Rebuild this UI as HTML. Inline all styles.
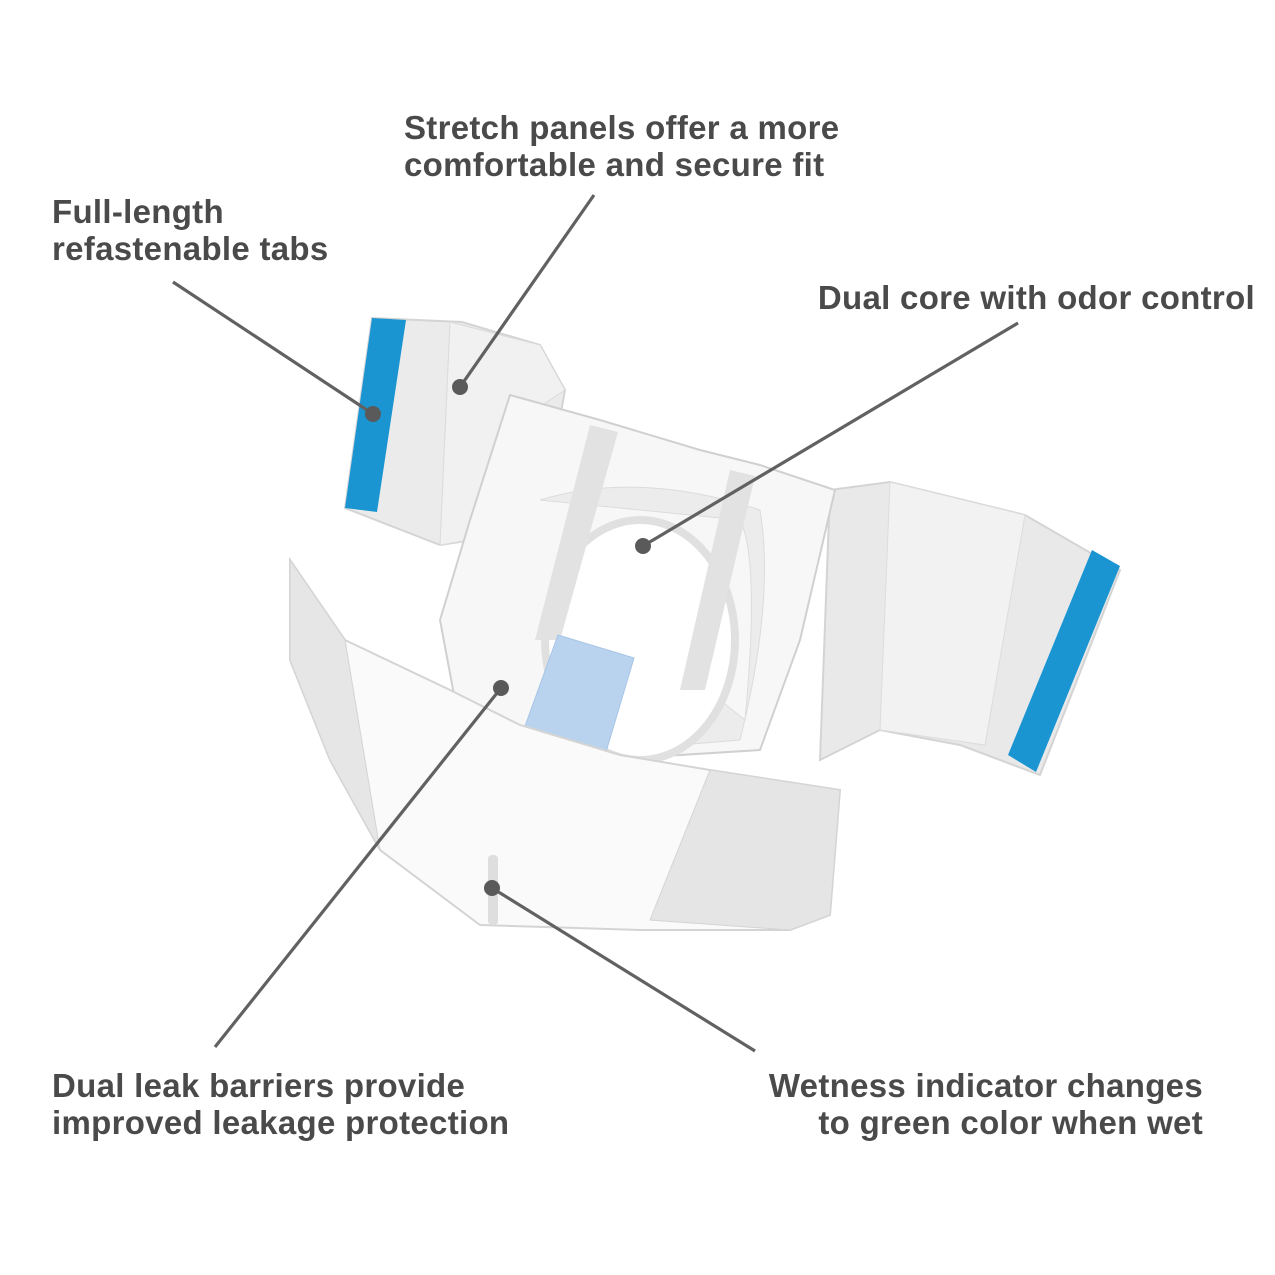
<!DOCTYPE html>
<html><head><meta charset="utf-8"><style>
html,body{margin:0;padding:0;background:#fff;}
svg{display:block}
text{font-family:"Liberation Sans",sans-serif;font-weight:bold;font-size:33px;fill:#4a4a4a;letter-spacing:0.3px;}
</style></head><body>
<svg width="1275" height="1275" viewBox="0 0 1275 1275" xmlns="http://www.w3.org/2000/svg">
<polygon points="372,318 462,322 540,345 565,390 540,530 440,545 345,508" fill="#ebebeb" stroke="#d4d4d4" stroke-width="2"/>
<polygon points="450,322 540,345 565,390 520,420 470,540 440,545" fill="#f1f1f1" stroke="#dadada"/>
<polygon points="372,318 406,320 377,512 345,508" fill="#1a95d2"/>
<polygon points="830,490 890,482 1025,515 1120,570 1040,775 960,745 880,730 820,760" fill="#e9e9e9" stroke="#d4d4d4" stroke-width="2"/>
<polygon points="890,482 1025,515 985,745 880,730" fill="#f2f2f2" stroke="#dcdcdc"/>
<polygon points="1092,550 1120,566 1036,772 1008,755" fill="#1a95d2"/>
<polygon points="510,395 600,420 700,450 760,465 835,490 800,640 760,750 600,760 520,740 455,700 440,620 470,520" fill="#f7f7f7" stroke="#d0d0d0" stroke-width="2"/>
<path d="M540,500 Q640,470 760,510 Q775,600 740,740 L620,750 Q560,650 600,580 Q650,540 700,580 L720,700 L745,720 Q760,560 740,520 Z" fill="#ececec" stroke="#dcdcdc"/>
<ellipse cx="640" cy="640" rx="95" ry="120" fill="#fff" stroke="#e0e0e0" stroke-width="8"/>
<polygon points="590,425 618,432 560,640 535,640" fill="#e2e2e2"/>
<polygon points="730,470 755,476 705,690 680,690" fill="#e2e2e2"/>
<polygon points="558,635 634,658 606,752 520,740" fill="#b9d3ef" stroke="#a6c5e6"/>
<polygon points="290,560 345,640 450,690 520,725 620,755 710,770 840,790 830,915 790,930 640,930 480,925 380,850 330,760 290,660" fill="#fafafa" stroke="#d4d4d4" stroke-width="2"/>
<polygon points="290,560 345,640 380,850 330,760 290,660" fill="#e6e6e6" stroke="#d4d4d4"/>
<polygon points="710,770 840,790 830,915 790,930 650,920" fill="#e5e5e5" stroke="#d4d4d4"/>
<rect x="488" y="855" width="10" height="70" rx="4" fill="#dedede"/>
<g stroke="#616161" stroke-width="3.2" fill="none">
<line x1="173" y1="282" x2="373" y2="414"/>
<line x1="594" y1="195" x2="460" y2="387"/>
<line x1="1018" y1="323" x2="643" y2="546"/>
<line x1="215" y1="1047" x2="501" y2="688"/>
<line x1="755" y1="1051" x2="492" y2="888"/>
</g>
<g fill="#5a5a5a">
<circle cx="373" cy="414" r="8"/><circle cx="460" cy="387" r="8"/>
<circle cx="643" cy="546" r="8"/><circle cx="501" cy="688" r="8"/>
<circle cx="492" cy="888" r="8"/>
</g>
<text x="404" y="139">Stretch panels offer a more</text>
<text x="404" y="176">comfortable and secure fit</text>
<text x="52" y="223">Full-length</text>
<text x="52" y="260">refastenable tabs</text>
<text x="1255" y="309" text-anchor="end">Dual core with odor control</text>
<text x="52" y="1097">Dual leak barriers provide</text>
<text x="52" y="1134">improved leakage protection</text>
<text x="1203" y="1097" text-anchor="end">Wetness indicator changes</text>
<text x="1203" y="1134" text-anchor="end">to green color when wet</text>
</svg>
</body></html>
